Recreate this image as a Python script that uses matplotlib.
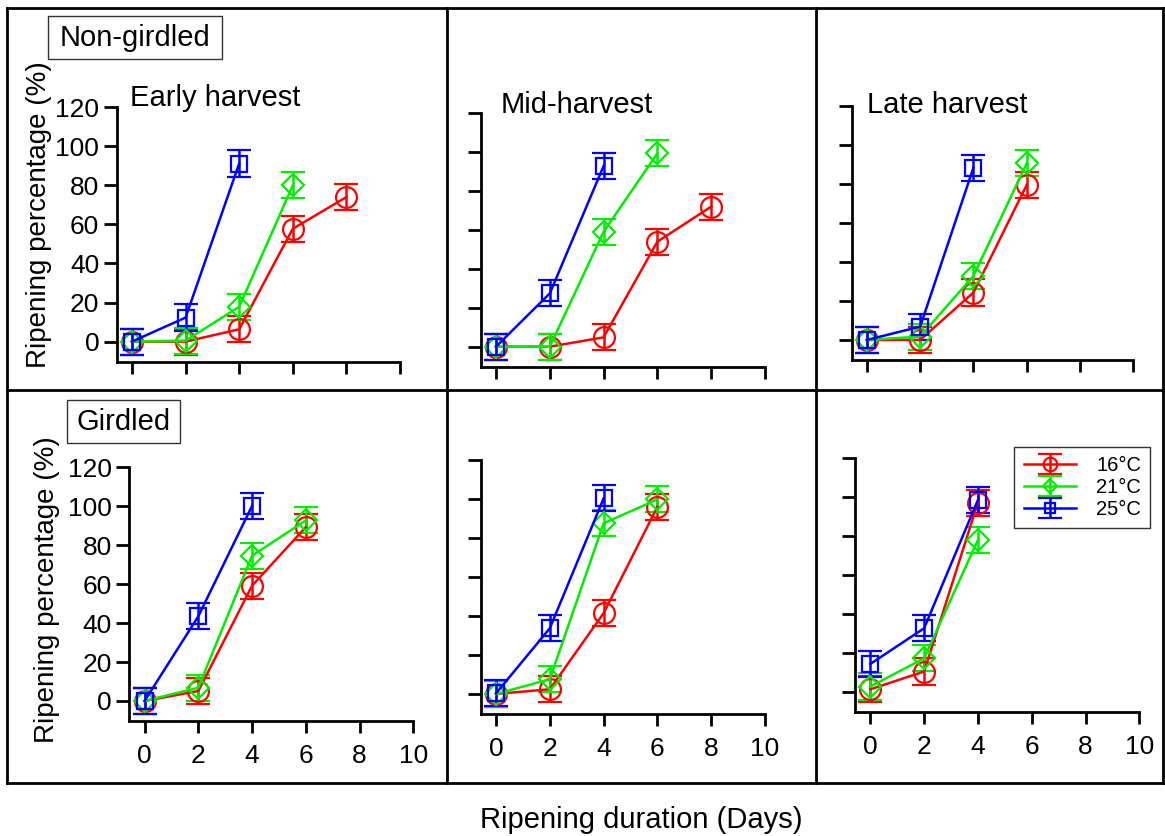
import matplotlib
matplotlib.use('Agg')
import matplotlib.pyplot as plt
from matplotlib.lines import Line2D
from matplotlib.patches import Rectangle

plt.rcParams['font.family'] = ['Liberation Sans', 'DejaVu Sans']

W, H = 1165, 836

days = [0, 2, 4, 6, 8]
temps = ['16°C', '21°C', '25°C']
colors = ['#ff0000', '#00ee00', '#0000ff']
markers = ['o', 'D', 's']
msizes = [15, 11.5, 12]

# non-girdled fruit, mean ripening % (16, 21, 25 degC)
early_16 = [0, 0, 6.3, 57.8, 74]
early_21 = [0, 0.5, 17.8, 80]
early_25 = [0, 12.3, 91.2]
mid_16 = [0, 0, 4.8, 54, 72]
mid_21 = [0, 0, 59.1, 99.4]
mid_25 = [0, 27.4, 92.9]
late_16 = [0, 0, 24.3, 79.5]
late_21 = [0, 1.7, 32.8, 90.6]
late_25 = [0, 6.8, 88.4]

# girdled fruit
g_early_16 = [0, 5.1, 59.2, 89.3]
g_early_21 = [0, 6.8, 74.6, 92.7]
g_early_25 = [0, 43.5, 100.2]
g_mid_16 = [0, 2.4, 41.4, 96]
g_mid_21 = [0, 7.5, 87.5, 99.8]
g_mid_25 = [0.3, 33.7, 100.3]
g_late_16 = [1.2, 10.3, 96.9]
g_late_21 = [2.6, 17.1, 77.8]
g_late_25 = [14.2, 32.5, 98.3]

# standard error, same for every point
se = 6.7

titles = ['Early harvest', 'Mid-harvest', 'Late harvest']


def px(x, y):
    return x / W, 1 - y / H


def draw_panel(ax, series, xlabels, ylabels):
    handles = []
    for vals, c, m, ms in zip(series, colors, markers, msizes):
        x = days[:len(vals)]
        h = ax.errorbar(x, vals, yerr=[se] * len(vals), color=c, marker=m, ms=ms,
                        mfc='none', mec=c, mew=1.6, lw=1.8, elinewidth=1.8,
                        capsize=8.4, capthick=2, clip_on=False)
        handles.append(h)
    ax.set_xlim(-0.57, 10)
    ax.set_ylim(-10.3, 120)
    ax.set_xticks(range(0, 11, 2))
    ax.set_yticks(range(0, 121, 20))
    for s in ['top', 'right']:
        ax.spines[s].set_visible(False)
    for s in ['left', 'bottom']:
        ax.spines[s].set_linewidth(2)
    ax.tick_params(axis='y', length=9.5, width=2, labelsize=19, pad=3,
                   labelleft=ylabels)
    ax.tick_params(axis='x', length=8.5, width=2, labelsize=19, pad=8,
                   labelbottom=xlabels)
    ax.patch.set_alpha(0)
    return handles


fig = plt.figure(figsize=(W / 100, H / 100), dpi=100)

# axes boxes in pixels: left, top(120), right, bottom spine
boxes = [
    (116.7, 107.3, 400.0, 361.7),
    (480.7, 113.3, 765.0, 366.7),
    (851.7, 106.0, 1133.3, 360.0),
    (129.3, 467.3, 413.3, 721.0),
    (480.7, 460.0, 765.0, 714.0),
    (855.0, 457.7, 1139.3, 711.7),
]

panels = [
    [early_16, early_21, early_25],
    [mid_16, mid_21, mid_25],
    [late_16, late_21, late_25],
    [g_early_16, g_early_21, g_early_25],
    [g_mid_16, g_mid_21, g_mid_25],
    [g_late_16, g_late_21, g_late_25],
]

axes = []
for i, ((l, t, r, b), series) in enumerate(zip(boxes, panels)):
    ax = fig.add_axes([l / W, 1 - b / H, (r - l) / W, (b - t) / H])
    hs = draw_panel(ax, series, xlabels=i >= 3, ylabels=i % 3 == 0)
    axes.append((ax, hs))

# legend in the last panel
ax6, hs6 = axes[5]
leg = ax6.legend(hs6, temps, loc='upper right', bbox_to_anchor=(1.038, 1.042),
                 borderaxespad=0, fontsize=14.5, markerscale=0.65, frameon=True,
                 fancybox=False, framealpha=1, edgecolor='#333333',
                 handlelength=2.6, handletextpad=1.0, labelspacing=0.15,
                 borderpad=0.45)
leg.get_frame().set_linewidth(1)

# panel titles
fig.text(*px(130, 106), titles[0], fontsize=21, va='baseline', ha='left')
fig.text(*px(500.7, 113), titles[1], fontsize=21, va='baseline', ha='left')
fig.text(*px(867, 112.7), titles[2], fontsize=21, va='baseline', ha='left')

# group labels in boxes
for (x0, y0, x1, y1), txt in [((48, 16, 222, 59), 'Non-girdled'),
                              ((67, 400, 180, 443), 'Girdled')]:
    fig.add_artist(Rectangle(px(x0, y1), (x1 - x0) / W, (y1 - y0) / H,
                             transform=fig.transFigure, fill=False,
                             ec='#333333', lw=1))
    fig.text(*px((x0 + x1) / 2, (y0 + y1) / 2), txt, fontsize=21,
             ha='center', va='center')

# axis labels
fig.text(*px(39, 215), 'Ripening percentage (%)', fontsize=20, rotation=90,
         ha='center', va='center')
fig.text(*px(47.5, 590), 'Ripening percentage (%)', fontsize=20, rotation=90,
         ha='center', va='center')
fig.text(*px(641.5, 820), 'Ripening duration (Days)', fontsize=21,
         ha='center', va='center')

# outer grid of frames
frame = dict(color='black', lw=2, transform=fig.transFigure)
for y in [8, 390, 783]:
    fig.add_artist(Line2D([7 / W, 1163 / W], [1 - y / H] * 2, **frame))
for x in [7, 447, 816, 1163]:
    fig.add_artist(Line2D([x / W] * 2, [1 - 8 / H, 1 - 783 / H], **frame))

fig.savefig('out.png', dpi=100)
